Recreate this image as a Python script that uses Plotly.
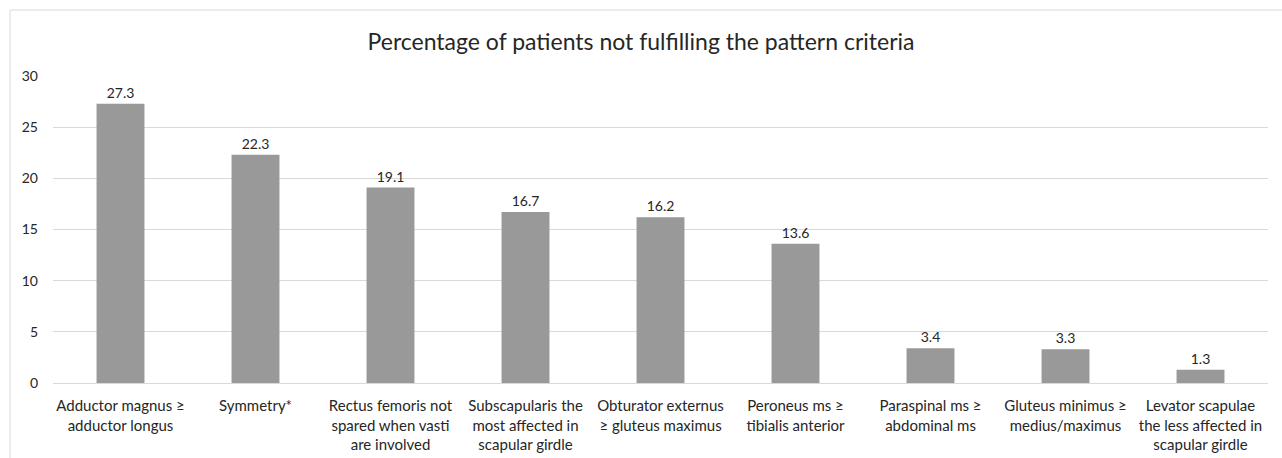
import plotly.graph_objects as go

categories = [
    "Adductor magnus ≥<br>adductor longus",
    "Symmetry*",
    "Rectus femoris not<br>spared when vasti<br>are involved",
    "Subscapularis the<br>most affected in<br>scapular girdle",
    "Obturator externus<br>≥ gluteus maximus",
    "Peroneus ms ≥<br>tibialis anterior",
    "Paraspinal ms ≥<br>abdominal ms",
    "Gluteus minimus ≥<br>medius/maximus",
    "Levator scapulae<br>the less affected in<br>scapular girdle",
]
values = [27.3, 22.3, 19.1, 16.7, 16.2, 13.6, 3.4, 3.3, 1.3]
y_ticks = [0, 5, 10, 15, 20, 25, 30]

FONT = "Lato, Carlito, Open Sans, sans-serif"
TXT = "#262626"

W, H = 1282, 458
ML, MR, MT, MB = 53, 14, 76, 75
pw = W - ML - MR
ph = H - MT - MB

fig = go.Figure(
    go.Bar(
        x=categories,
        y=values,
        marker=dict(color="#999999", line=dict(width=0)),
        text=[f"{v:.1f}" for v in values],
        textposition="outside",
        textfont=dict(family=FONT, size=14, color=TXT),
        cliponaxis=False,
    )
)

fig.update_layout(
    width=W,
    height=H,
    margin=dict(l=ML, r=MR, t=MT, b=MB, autoexpand=False),
    paper_bgcolor="white",
    plot_bgcolor="white",
    bargap=0.645,
    showlegend=False,
    title=dict(
        text="Percentage of patients not fulfilling the pattern criteria",
        x=0.5,
        xanchor="center",
        y=1 - 42 / H,
        yanchor="middle",
        font=dict(family=FONT, size=23, color=TXT),
    ),
    font=dict(family=FONT, color=TXT),
)

fig.update_yaxes(
    range=[0, 30],
    tickvals=y_ticks,
    showgrid=True,
    gridcolor="#d9d9d9",
    gridwidth=1,
    zeroline=True,
    zerolinecolor="#d9d9d9",
    zerolinewidth=1,
    showline=False,
    ticks="",
    automargin=False,
    ticklabelstandoff=14,
    tickfont=dict(family=FONT, size=14, color=TXT),
)
fig.update_xaxes(
    showgrid=False,
    showline=False,
    ticks="",
    tickangle=0,
    automargin=False,
    ticklabelstandoff=12,
    tickfont=dict(family=FONT, size=15, color=TXT),
)

# outer chart frame
fig.add_shape(
    type="rect",
    xref="paper",
    yref="paper",
    x0=(10 - ML) / pw,
    x1=(W + 20 - ML) / pw,
    y0=-(H + 20 - MT - ph) / ph,
    y1=(MT + ph - 10) / ph,
    line=dict(color="#d9d9d9", width=1),
    fillcolor="rgba(0,0,0,0)",
    layer="below",
)

fig.write_html(
    "out.html",
    config={"displayModeBar": False},
    post_script="document.body.style.margin='0';document.body.style.overflow='hidden';",
)
